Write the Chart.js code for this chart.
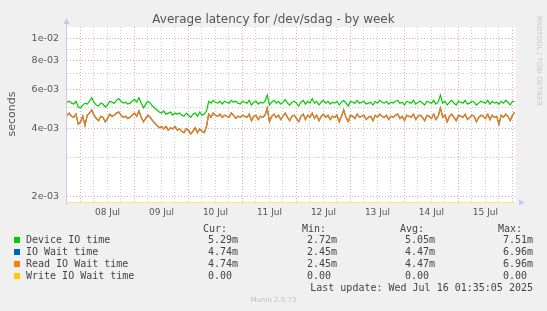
<!DOCTYPE html>
<html>
<head>
<meta charset="utf-8">
<script src="https://cdn.jsdelivr.net/npm/chart.js@4/dist/chart.umd.min.js"></script>
<style>
  html, body { margin: 0; padding: 0; background: #f0f0f0; }
  #wrap { position: relative; width: 547px; height: 311px; overflow: hidden; }
  #wrap canvas { position: absolute; left: 0; top: 0; }
  .t { position: absolute; white-space: pre; color: #444; }
  .mono { font: 10px "DejaVu Sans Mono", monospace; line-height: 12px; }
  .sq { position: absolute; width: 6px; height: 6px; }
</style>
</head>
<body>
<div id="wrap">
  <canvas id="latency_chart" width="547" height="311"></canvas>
  <div class="t" style="left:0;width:547px;top:12px;text-align:center;font:12px 'DejaVu Sans';color:#555">Average latency for /dev/sdag - by week</div>
  <div class="t" style="left:494px;top:57px;width:90px;text-align:center;font:7px 'DejaVu Sans';color:#c8c8c8;transform:rotate(90deg)">RRDTOOL / TOBI OETIKER</div>
  <div id="legend"></div>
  <div class="t" style="left:0;width:547px;top:296px;text-align:center;font:7px 'DejaVu Sans';color:#c0c0c0">Munin 2.0.73</div>
</div>
<script>
// series names / colours
const seriesNames = ["Device IO time", "IO Wait time", "Read IO Wait time", "Write IO Wait time"];
const seriesColors = ["#00cc00", "#0066b3", "#ff8000", "#ffcc00"];
const yTitle = "seconds";

// legend numbers (Cur, Min, Avg, Max)
const statHeads = ["Cur:", "Min:", "Avg:", "Max:"];
const statValues = [
  ["5.29m", "2.72m", "5.05m", "7.51m"],
  ["4.74m", "2.45m", "4.47m", "6.96m"],
  ["4.74m", "2.45m", "4.47m", "6.96m"],
  ["0.00", "0.00", "0.00", "0.00"]
];
const lastUpdate = "Last update: Wed Jul 16 01:35:05 2025";

// x axis: hours since 07 Jul 00:00, one sample per hour from 07 Jul 18:00
const startHour = 18;
const endHour = 217.58;
const dayLabels = ["08 Jul", "09 Jul", "10 Jul", "11 Jul", "12 Jul", "13 Jul", "14 Jul", "15 Jul"];

// y axis (log)
const yMin = 1.88e-3;
const yMax = 1.13e-2;
const yMajorTicks = [2e-3, 4e-3, 6e-3, 8e-3, 1e-2];
const yMajorLabels = ["2e-03", "4e-03", "6e-03", "8e-03", "1e-02"];
const yMinorTicks = [3e-3, 5e-3, 7e-3, 9e-3];

// values in milliseconds
const deviceMs = [
  5.25,5.3,5.2,5.15,5.3,5.0,4.95,5.1,5.2,5.15,
  5.3,5.5,5.25,5.1,5.05,5.2,5.15,5.0,5.1,5.3,
  5.25,5.2,5.35,5.45,5.3,5.2,5.25,5.15,5.2,5.3,
  5.4,5.25,5.5,5.2,4.95,5.15,5.3,5.2,5.05,4.95,
  4.85,4.75,4.7,4.8,4.65,4.7,4.75,4.6,4.7,4.65,
  4.7,4.6,4.55,4.7,4.6,4.5,4.65,4.7,4.55,4.75,
  4.6,4.65,4.8,5.3,5.2,5.35,5.25,5.2,5.3,5.15,
  5.3,5.25,5.2,5.35,5.25,5.3,5.2,5.15,5.3,5.25,
  5.2,5.35,5.1,5.25,5.3,5.15,5.25,5.2,5.3,5.65,
  5.1,5.25,5.35,5.2,5.3,5.15,5.25,5.4,5.2,5.1,
  5.25,5.3,5.2,5.05,5.25,5.35,5.15,5.3,5.2,5.45,
  5.2,5.3,5.1,5.25,5.35,5.2,5.3,5.15,5.25,5.2,
  5.3,5.1,5.25,5.35,5.2,5.05,5.3,5.25,5.2,5.35,
  5.2,5.25,5.3,5.15,5.2,5.25,5.1,5.3,5.2,5.35,
  5.25,5.2,5.3,5.15,5.25,5.2,5.3,5.35,5.2,5.25,
  5.1,5.3,5.25,5.2,5.35,5.15,5.25,5.3,5.2,5.1,
  5.3,5.25,5.2,5.35,5.15,5.25,5.65,5.2,5.3,5.1,
  5.25,5.35,5.2,5.1,5.3,5.25,5.2,5.35,5.15,5.2,
  5.3,5.25,5.1,5.2,5.3,5.25,5.2,5.35,5.15,5.3,
  5.2,5.25,5.15,5.3,5.2,5.35,5.25,5.1,5.3,5.29
];
const readWaitMs = [
  4.6,4.7,4.55,4.5,4.65,4.2,4.3,4.55,4.15,4.6,
  4.7,4.85,4.6,4.45,4.35,4.55,4.5,4.3,4.45,4.65,
  4.55,4.6,4.7,4.75,4.6,4.5,4.55,4.45,4.5,4.6,
  4.7,4.55,4.8,4.5,4.3,4.45,4.6,4.5,4.35,4.25,
  4.15,4.05,4.1,4.0,4.1,3.95,4.05,4.0,4.1,3.95,
  4.0,3.9,3.85,4.0,3.95,3.8,3.9,4.05,3.85,4.0,
  3.9,3.85,4.1,4.65,4.5,4.7,4.6,4.55,4.65,4.5,
  4.6,4.55,4.5,4.7,4.6,4.45,4.55,4.5,4.6,4.55,
  4.5,4.65,4.35,4.55,4.6,4.4,4.55,4.5,4.6,4.95,
  4.3,4.55,4.65,4.5,4.6,4.4,4.55,4.7,4.5,4.35,
  4.55,4.6,4.45,4.3,4.55,4.65,4.4,4.6,4.5,4.7,
  4.45,4.6,4.35,4.55,4.65,4.5,4.6,4.4,4.55,4.5,
  4.6,4.3,4.55,4.85,4.5,4.3,4.6,4.55,4.45,4.65,
  4.5,4.55,4.6,4.4,4.5,4.55,4.35,4.6,4.5,4.65,
  4.55,4.5,4.6,4.4,4.55,4.5,4.6,4.65,4.45,4.55,
  4.35,4.6,4.55,4.5,4.65,4.4,4.55,4.6,4.5,4.35,
  4.6,4.55,4.45,4.65,4.4,4.55,4.95,4.5,4.6,4.3,
  4.55,4.65,4.5,4.35,4.6,4.55,4.5,4.65,4.4,4.5,
  4.6,4.55,4.3,4.5,4.6,4.55,4.45,4.65,4.4,4.6,
  4.5,4.55,4.2,4.6,4.5,4.65,4.55,4.35,4.6,4.74
];
// IO wait equals read wait in this graph (same Cur/Min/Avg/Max)
const ioWaitMs = readWaitMs.slice();
// write wait is 0 all week
const writeWaitMs = deviceMs.map(() => 0);

function toPoints(arr) {
  // 0 can't sit on a log axis, munin draws it on the bottom edge
  return arr.map((v, i) => ({ x: startHour + i, y: Math.max(v / 1000, yMin) }));
}

// order: higher number is drawn first (underneath)
function line(idx, arr, order) {
  return {
    label: seriesNames[idx],
    data: toPoints(arr),
    borderColor: seriesColors[idx],
    borderWidth: 1.2,
    pointRadius: 0,
    tension: 0,
    fill: false,
    order: order
  };
}

const majorGrid = "rgba(230,130,130,0.7)";
const minorGrid = "rgba(180,180,180,0.7)";

// white plot area, axis arrows, y title
const munin_frame = {
  id: "munin_frame",
  beforeDraw(chart) {
    const { ctx, chartArea: a } = chart;
    ctx.save();
    ctx.fillStyle = "#ffffff";
    ctx.fillRect(a.left, a.top, a.right - a.left, a.bottom - a.top);
    ctx.restore();
  },
  afterDraw(chart) {
    const { ctx, chartArea: a } = chart;
    ctx.save();
    ctx.strokeStyle = "#c8c8f0";
    ctx.fillStyle = "#c8c8f0";
    ctx.lineWidth = 1;
    ctx.beginPath();
    ctx.moveTo(a.left - 0.5, a.bottom + 2);
    ctx.lineTo(a.left - 0.5, a.top - 4);
    ctx.stroke();
    ctx.beginPath();
    ctx.moveTo(a.left - 3.5, a.top - 3);
    ctx.lineTo(a.left + 2.5, a.top - 3);
    ctx.lineTo(a.left - 0.5, a.top - 9);
    ctx.closePath();
    ctx.fill();
    ctx.beginPath();
    ctx.moveTo(a.right + 3, a.bottom - 3.5);
    ctx.lineTo(a.right + 3, a.bottom + 2.5);
    ctx.lineTo(a.right + 9, a.bottom - 0.5);
    ctx.closePath();
    ctx.fill();

    ctx.translate(12, 114);
    ctx.rotate(-Math.PI / 2);
    ctx.fillStyle = "#555";
    ctx.font = "11px 'DejaVu Sans'";
    ctx.textAlign = "center";
    ctx.textBaseline = "middle";
    ctx.fillText(yTitle, 0, 0);
    ctx.restore();
  }
};

const ctx = document.getElementById("latency_chart");

new Chart(ctx, {
  type: "line",
  data: {
    datasets: [
      line(0, deviceMs, 2),
      line(1, ioWaitMs, 3),
      line(2, readWaitMs, 1),
      line(3, writeWaitMs, 0)
    ]
  },
  options: {
    responsive: false,
    animation: false,
    devicePixelRatio: 1,
    layout: { padding: { left: 0, top: 27, right: 31, bottom: 0 } },
    plugins: {
      legend: { display: false },
      title: { display: false },
      tooltip: { enabled: false }
    },
    scales: {
      x: {
        type: "linear",
        min: startHour,
        max: endHour,
        afterFit(scale) { scale.height = 108; },
        afterBuildTicks(scale) {
          const t = [];
          for (let h = 24; h <= 216; h += 6) t.push({ value: h });
          scale.ticks = t;
        },
        ticks: {
          autoSkip: false,
          maxRotation: 0,
          padding: 4,
          color: "#555",
          font: { family: "DejaVu Sans", size: 9 },
          callback(v) {
            if (v % 24 !== 12) return "";
            return dayLabels[Math.floor((v - 24) / 24)];
          }
        },
        grid: {
          drawTicks: false,
          color: (c) => (c.tick && c.tick.value % 24 === 0 ? majorGrid : minorGrid)
        },
        border: { display: false, dash: [1, 2] }
      },
      y: {
        type: "logarithmic",
        min: yMin,
        max: yMax,
        afterFit(scale) { scale.width = 67; },
        afterBuildTicks(scale) {
          scale.ticks = yMajorTicks.concat(yMinorTicks).sort((a, b) => a - b).map((v) => ({ value: v }));
        },
        ticks: {
          autoSkip: false,
          padding: 8,
          color: "#555",
          font: { family: "DejaVu Sans", size: 9.5 },
          callback(v) {
            const i = yMajorTicks.findIndex((m) => Math.abs(m - v) < 1e-9);
            return i >= 0 ? yMajorLabels[i] : "";
          }
        },
        grid: {
          drawTicks: false,
          color: (c) => {
            if (!c.tick) return minorGrid;
            const major = yMajorTicks.some((m) => Math.abs(m - c.tick.value) < 1e-9);
            return major ? majorGrid : minorGrid;
          }
        },
        border: { display: false, dash: [1, 2] }
      }
    }
  },
  plugins: [munin_frame]
});

// legend block under the graph
function buildLegend() {
  const el = document.getElementById("legend");
  const statX = [203, 302, 400, 498];
  const valX = [208, 307, 405, 503];
  let html = "";
  statHeads.forEach((h, j) => {
    html += `<div class="t mono" style="left:${statX[j]}px;top:223px">${h}</div>`;
  });
  seriesNames.forEach((name, i) => {
    const top = 234 + i * 12;
    html += `<div class="sq" style="left:14px;top:${top + 3}px;background:${seriesColors[i]}"></div>`;
    html += `<div class="t mono" style="left:26px;top:${top}px">${name}</div>`;
    statValues[i].forEach((v, j) => {
      html += `<div class="t mono" style="left:${valX[j]}px;top:${top}px">${v}</div>`;
    });
  });
  html += `<div class="t mono" style="right:14px;top:282px">${lastUpdate}</div>`;
  el.innerHTML = html;
}
buildLegend();
</script>
</body>
</html>
